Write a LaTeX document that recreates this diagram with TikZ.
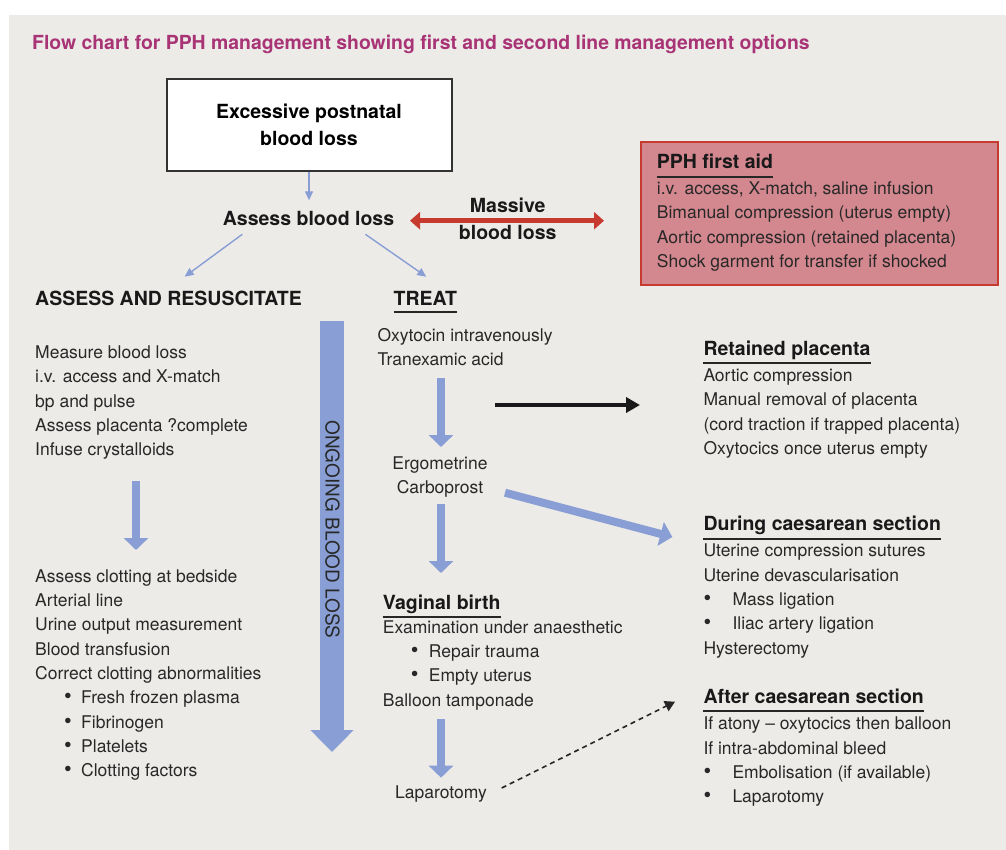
\documentclass[tikz,border=0pt]{standalone}
\usepackage{fontspec}
\setmainfont{TeX Gyre Heros}
\usepackage{tikz}
\usetikzlibrary{arrows.meta}
\usetikzlibrary{positioning}
\definecolor{panelgrey}{RGB}{237,235,232}
\definecolor{titlepink}{RGB}{168,52,118}
\definecolor{flowblue}{RGB}{136,158,212}
\definecolor{aidred}{RGB}{198,58,48}
\definecolor{aidpink}{RGB}{211,135,142}
\definecolor{bodytext}{RGB}{40,40,40}
\newcommand{\bul}[2]{\hspace*{#1}\makebox[#2][l]{\scalebox{1.25}{\textbullet}}}

\begin{document}
\begin{tikzpicture}[x=1pt,y=-1pt,line cap=butt,
  body/.style={anchor=base west,inner sep=0pt,align=left,text=bodytext,font=\fontsize{17.5}{24.3}\selectfont},
  head/.style={anchor=base west,inner sep=0pt,text=black!90,font=\fontsize{19.5}{27}\selectfont\bfseries},
  uline/.style={line width=2pt,black!85},
  thinarrow/.style={flowblue,line width=1.4pt,-{Triangle[width=8pt,length=9pt]}},
  fatarrow/.style={flowblue,line width=8pt,-{Triangle[width=24pt,length=12pt]}}]
\useasboundingbox (0,0) rectangle (1006,850);
\fill[white] (0,0) rectangle (1006,850);
\fill[panelgrey] (9,15) rectangle (1006,850);

% title
\node[anchor=base west,inner sep=0pt,text=titlepink,font=\fontsize{19.4}{22}\selectfont\bfseries] (title) at (32,50)
  {Flow chart for PPH management showing first and second line management options};

% top of the chart (list nodes sit on the baseline of their last line)
\node[draw=black!80,line width=2pt,fill=white,minimum width=285pt,minimum height=92pt,align=center,
  font=\fontsize{19.5}{27}\selectfont\bfseries] (excess) at (309,125) {Excessive postnatal\\blood loss};
\node[head,anchor=base] (assess) at (308.5,226) {Assess blood loss};
\node[head,anchor=base,align=center] (massive) at (507.7,239.3) {Massive\\blood loss};
\coordinate (assessin) at (309,200.3);
\coordinate (massL) at (410,220.7);
\coordinate (massR) at (604,220.7);
\coordinate (resusout) at (242.3,234.3);
\coordinate (resusin) at (184.6,276.7);
\coordinate (treatout) at (365.4,234.3);
\coordinate (treatin) at (426.3,276.7);
\draw[thinarrow] (excess.south) -- (assessin);
\draw[thinarrow] (resusout) -- (resusin);
\draw[thinarrow] (treatout) -- (treatin);
\draw[aidred,line width=5pt,{Triangle[width=17pt,length=10pt]}-{Triangle[width=17pt,length=10pt]}] (massL) -- (massR);

% first aid box
\node[draw=aidred,line width=2pt,fill=aidpink,minimum width=357pt,minimum height=143pt,anchor=north west] (firstaid) at (640.3,141) {};
\node[head] (aidhead) at (656.7,169) {PPH first aid};
\draw[uline] ([yshift=-8pt]aidhead.base west) -- ([yshift=-8pt]aidhead.base east);
\node[body] (aidlist) at (656.7,267.3) {i.v. access, X-match, saline infusion\\Bimanual compression (uterus empty)\\Aortic compression (retained placenta)\\Shock garment for transfer if shocked};

% assess and resuscitate
\node[head] (resus) at (35,305.3) {ASSESS AND RESUSCITATE};
\node[body] (resuslist) at (35,455.7) {Measure blood loss\\i.v. access and X-match\\bp and pulse\\Assess placenta ?complete\\Infuse crystalloids};
\coordinate (clotout) at (136,481);
\coordinate (clotin) at (136,550);
\draw[fatarrow] (clotout) -- (clotin);
\node[body] (clotlist) at (35,776.7) {Assess clotting at bedside\\Arterial line\\Urine output measurement\\Blood transfusion\\Correct clotting abnormalities\\
  \bul{29pt}{17pt}Fresh frozen plasma\\\bul{29pt}{17pt}Fibrinogen\\\bul{29pt}{17pt}Platelets\\\bul{29pt}{17pt}Clotting factors};

% ongoing blood loss
\coordinate (ongoingtop) at (332,320.7);
\coordinate (ongoingtip) at (332,752);
\draw[flowblue,line width=24pt,-{Triangle[width=42pt,length=22pt]}] (ongoingtop) -- (ongoingtip);
\node[rotate=-90,inner sep=0pt,text=bodytext,font=\fontsize{19}{22}\selectfont] (ongoing) at (332.5,529.5) {ONGOING BLOOD LOSS};

% treat
\node[head] (treat) at (393.5,305.3) {TREAT};
\draw[uline] ([yshift=-7pt]treat.base west) -- ([yshift=-7pt]treat.base east);
\node[body] (oxylist) at (377.3,365.7) {Oxytocin intravenously\\Tranexamic acid};
\node[body,anchor=base,align=center] (ergolist) at (440,493.3) {Ergometrine\\Carboprost};
\node[head] (vaginal) at (382.7,609) {Vaginal birth};
\draw[uline] ([yshift=-8pt]vaginal.base west) -- ([yshift=-8pt]vaginal.base east);
\node[body] (vaglist) at (382.7,706) {Examination under anaesthetic\\\bul{28pt}{18pt}Repair trauma\\\bul{28pt}{18pt}Empty uterus\\Balloon tamponade};
\node[body] (lapa) at (395,798.3) {Laparotomy};
\coordinate (oxyout) at (441,378);
\coordinate (ergoin) at (441,447);
\coordinate (ergoout) at (441,504);
\coordinate (vagin) at (441,573);
\coordinate (vagout) at (441,719);
\coordinate (lapain) at (441,777.7);
\draw[fatarrow] (oxyout) -- (ergoin);
\draw[fatarrow] (ergoout) -- (vagin);
\draw[fatarrow] (vagout) -- (lapain);

% second line
\node[head] (retained) at (703.3,355) {Retained placenta};
\draw[uline] ([yshift=-8pt]retained.base west) -- ([yshift=-8pt]retained.base east);
\node[body] (retlist) at (703.3,454.3) {Aortic compression\\Manual removal of placenta\\(cord traction if trapped placenta)\\Oxytocics once uterus empty};
\node[head] (during) at (703.3,530.7) {During caesarean section};
\draw[uline] ([yshift=-8pt]during.base west) -- ([yshift=-8pt]during.base east);
\node[body] (durlist) at (703.3,654) {Uterine compression sutures\\Uterine devascularisation\\\bul{0pt}{29pt}Mass ligation\\\bul{0pt}{29pt}Iliac artery ligation\\Hysterectomy};
\node[head] (after) at (703.3,703.3) {After caesarean section};
\draw[uline] ([yshift=-8pt]after.base west) -- ([yshift=-8pt]after.base east);
\node[body] (aftlist) at (703.3,802.7) {If atony – oxytocics then balloon\\If intra-abdominal bleed\\\bul{0pt}{29pt}Embolisation (if available)\\\bul{0pt}{29pt}Laparotomy};
\coordinate (retout) at (495,405);
\coordinate (retin) at (640,405);
\coordinate (durout) at (505,492.7);
\coordinate (durin) at (672.3,537);
\coordinate (lapaout) at (501.7,788);
\coordinate (aftin) at (675,701.7);
\draw[black!90,line width=3.5pt,-{Triangle[width=15pt,length=14pt]}] (retout) -- (retin);
\draw[fatarrow] (durout) -- (durin);
\draw[black!85,line width=1.6pt,dash pattern=on 5pt off 4pt,-{Triangle[width=11pt,length=10pt]}] (lapaout) -- (aftin);
\end{tikzpicture}
\end{document}
